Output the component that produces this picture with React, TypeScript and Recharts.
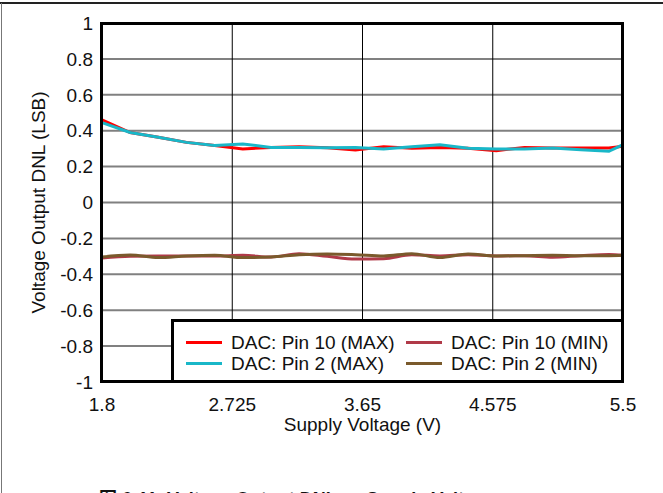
import React from 'react';
import { LineChart, Line, XAxis, YAxis, CartesianGrid, Label } from 'recharts';

const volts = [1.8, 2.0, 2.2, 2.4, 2.6, 2.8, 3.0, 3.2, 3.4, 3.6, 3.8, 4.0, 4.2, 4.4, 4.6, 4.8, 5.0, 5.2, 5.4, 5.5];
const pin10Max = [0.46, 0.39, 0.363, 0.335, 0.317, 0.298, 0.307, 0.311, 0.305, 0.292, 0.311, 0.302, 0.307, 0.302, 0.289, 0.307, 0.304, 0.304, 0.304, 0.313];
const pin2Max = [0.445, 0.39, 0.363, 0.335, 0.317, 0.326, 0.307, 0.307, 0.305, 0.307, 0.298, 0.31, 0.322, 0.302, 0.298, 0.298, 0.304, 0.294, 0.285, 0.322];
const pin10Min = [-0.309, -0.3, -0.298, -0.298, -0.298, -0.294, -0.304, -0.285, -0.3, -0.315, -0.313, -0.291, -0.298, -0.291, -0.298, -0.296, -0.305, -0.296, -0.289, -0.294];
const pin2Min = [-0.304, -0.293, -0.307, -0.298, -0.294, -0.307, -0.304, -0.291, -0.287, -0.291, -0.298, -0.285, -0.307, -0.287, -0.298, -0.296, -0.294, -0.296, -0.296, -0.294];

const xTicks = [1.8, 2.725, 3.65, 4.575, 5.5];
const yTicks = [-1, -0.8, -0.6, -0.4, -0.2, 0, 0.2, 0.4, 0.6, 0.8, 1];

const seriesNames = ['DAC: Pin 10 (MAX)', 'DAC: Pin 2 (MAX)', 'DAC: Pin 10 (MIN)', 'DAC: Pin 2 (MIN)'];
const seriesColors = ['#ff0000', '#19b7c8', '#b03a48', '#7a5a2c'];

const xTitle = 'Supply Voltage (V)';
const yTitle = 'Voltage Output DNL (LSB)';
const caption = '图 6-11. Voltage Output DNL vs Supply Voltage';

const data = volts.map((v, i) => ({
  v,
  p10max: pin10Max[i],
  p2max: pin2Max[i],
  p10min: pin10Min[i],
  p2min: pin2Min[i],
}));

const FONT = '"Liberation Sans", Arial, sans-serif';

export default function App() {
  const legendItem = (idx: number) => (
    <div style={{ display: 'flex', alignItems: 'center', height: 21 }}>
      <div style={{ width: 36, height: 3, background: seriesColors[idx], marginRight: 9 }} />
      <span>{seriesNames[idx]}</span>
    </div>
  );
  return (
    <div style={{ position: 'absolute', left: 0, top: 0, width: 663, height: 493, overflow: 'hidden', background: '#fff', fontFamily: FONT }}>
      <div style={{ position: 'absolute', left: 0, top: 2, width: 663, height: 0, borderTop: '2px solid #222' }} />
      <div style={{ position: 'absolute', left: 1, top: 3, width: 0, height: 490, borderLeft: '1px solid #777' }} />
      <LineChart
        width={663}
        height={493}
        data={data}
        margin={{ top: 23, right: 40, left: 0, bottom: 0 }}
        style={{ position: 'absolute', left: 0, top: 0 }}
      >
        <CartesianGrid vertical={false} stroke="#808080" strokeWidth={2} />
        <CartesianGrid horizontal={false} stroke="#000" strokeWidth={1} />
        <XAxis
          dataKey="v"
          type="number"
          domain={[1.8, 5.5]}
          ticks={xTicks}
          axisLine={false}
          tickLine={false}
          tickSize={0}
          tickMargin={16}
          height={111}
          tick={{ fill: '#111', fontSize: 19, fontFamily: FONT }}
        >
          <Label value={xTitle} position="insideTop" offset={36} style={{ fill: '#111', fontSize: 19, fontFamily: FONT }} />
        </XAxis>
        <YAxis
          type="number"
          domain={[-1, 1]}
          ticks={yTicks}
          axisLine={false}
          tickLine={false}
          tickSize={0}
          tickMargin={9}
          width={102}
          tick={{ fill: '#111', fontSize: 19, fontFamily: FONT }}
        >
          <Label
            content={(props: any) => {
              const vb = props.viewBox || { x: 0, y: 23, width: 102, height: 359 };
              const cx = vb.x + 38;
              const cy = vb.y + vb.height / 2;
              return (
                <text
                  x={cx}
                  y={cy}
                  transform={`rotate(-90 ${cx} ${cy})`}
                  textAnchor="middle"
                  dominantBaseline="central"
                  fill="#111"
                  fontSize={19}
                  fontFamily={FONT}
                >
                  {yTitle}
                </text>
              );
            }}
          />
        </YAxis>
        <Line type="linear" dataKey="p10max" stroke={seriesColors[0]} strokeWidth={3} dot={false} isAnimationActive={false} />
        <Line type="linear" dataKey="p2max" stroke={seriesColors[1]} strokeWidth={3} dot={false} isAnimationActive={false} />
        <Line type="monotone" dataKey="p10min" stroke={seriesColors[2]} strokeWidth={3} dot={false} isAnimationActive={false} />
        <Line type="monotone" dataKey="p2min" stroke={seriesColors[3]} strokeWidth={3} dot={false} isAnimationActive={false} />
      </LineChart>
      <div
        style={{
          position: 'absolute',
          left: 100,
          top: 22,
          width: 524,
          height: 361,
          boxSizing: 'border-box',
          border: '3px solid #000',
          pointerEvents: 'none',
        }}
      />
      <div
        style={{
          position: 'absolute',
          left: 171,
          top: 319,
          width: 453,
          height: 64,
          boxSizing: 'border-box',
          border: '3px solid #000',
          background: '#fff',
          fontSize: 19,
          color: '#111',
          display: 'flex',
          paddingLeft: 12,
          paddingTop: 10,
        }}
      >
        <div style={{ width: 220 }}>
          {legendItem(0)}
          {legendItem(1)}
        </div>
        <div>
          {legendItem(2)}
          {legendItem(3)}
        </div>
      </div>
      <div
        style={{
          position: 'absolute',
          left: 99,
          top: 487,
          fontSize: 18,
          fontWeight: 'bold',
          lineHeight: '24px',
          whiteSpace: 'nowrap',
          color: '#111',
          fontFamily: '"Liberation Sans", Arial, "Noto Sans CJK SC", sans-serif',
        }}
      >
        {caption}
      </div>
    </div>
  );
}
